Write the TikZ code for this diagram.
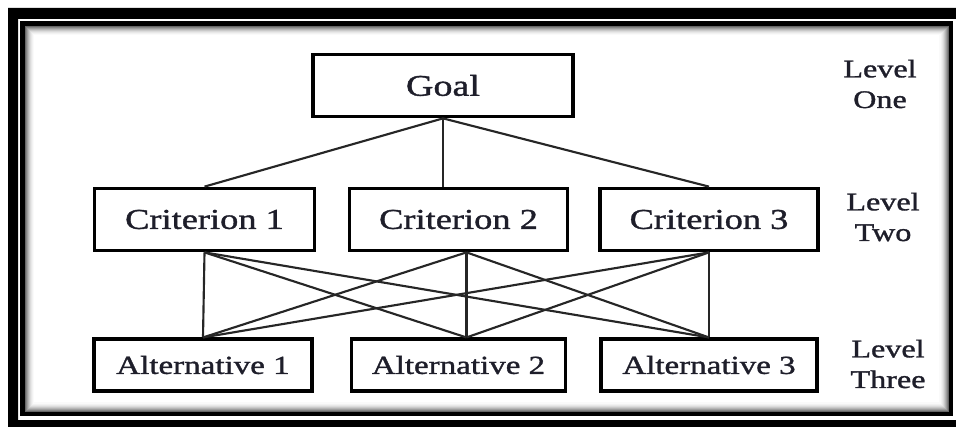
\documentclass[tikz,border=0pt]{standalone}
\usepackage{fontspec}
\setmainfont{Liberation Serif}[FakeStretch=1.27,FakeBold=1.3]
\usepackage{tikz}

\definecolor{inkdark}{HTML}{1E1E2A}
\tikzset{
  levelbox/.style={draw, line width=2.3pt, text=inkdark, inner sep=0pt},
  levellabel/.style={text=inkdark, align=center, font=\fontsize{19}{23}\selectfont},
  link/.style={line width=1.6pt, draw=black!85}
}

\begin{document}
\begin{tikzpicture}[x=0.75pt, y=-0.75pt]
  \useasboundingbox (0,0) rectangle (956,427);
  % Double frame round the picture, inner one with a soft shadow
  \fill[black, even odd rule] (8,8) rectangle (975,445) (18,19) rectangle (956,420);
  \foreach \d/\c in {3/60, 4/48, 5/38, 6/29, 7/21, 8/14, 9/9, 10/5, 11/2}
    \draw[black!\c, line width=1.1pt] (22.5+\d,23.5+\d) rectangle (951-\d,414-\d);
  \draw[line width=3.2pt] (22.5,23.5) rectangle (951,414);
  % Level one
  \node[levelbox, minimum width=195pt, minimum height=47pt,
        font=\fontsize{22.5}{26}\selectfont] (goal) at (443,85.5) {Goal};
  % Level two
  \node[levelbox, minimum width=165.5pt, minimum height=47pt,
        font=\fontsize{21.5}{26}\selectfont] (crit1) at (204.5,219.5) {Criterion 1};
  \node[levelbox, minimum width=164pt, minimum height=47pt,
        font=\fontsize{21.5}{26}\selectfont] (crit2) at (458.5,219.5) {Criterion 2};
  \node[levelbox, minimum width=163.5pt, minimum height=47pt,
        font=\fontsize{21.5}{26}\selectfont] (crit3) at (709,219.5) {Criterion 3};
  % Level three
  \node[levelbox, minimum width=163.5pt, minimum height=39pt,
        font=\fontsize{19.5}{24}\selectfont] (alt1) at (203,365) {Alternative 1};
  \node[levelbox, minimum width=160pt, minimum height=39pt,
        font=\fontsize{19.5}{24}\selectfont] (alt2) at (458.5,365) {Alternative 2};
  \node[levelbox, minimum width=162pt, minimum height=39pt,
        font=\fontsize{19.5}{24}\selectfont] (alt3) at (709,365) {Alternative 3};
  % Labels on the right
  \node[levellabel] (lvl1) at (880,84) {Level\\One};
  \node[levellabel] (lvl2) at (883,217) {Level\\Two};
  \node[levellabel] (lvl3) at (888,364) {Level\\Three};
  % Goal to criteria
  \draw[link] (goal.south) -- (crit1.north);
  \draw[link] (goal.south) -- (goal.south |- crit2.north);
  \draw[link] (goal.south) -- (crit3.north);
  % Criteria to alternatives
  \coordinate (c2foot) at ([xshift=6pt]crit2.south);
  \coordinate (a2head) at ([xshift=6pt]alt2.north);
  \draw[link] (crit1.south) -- (alt1.north);
  \draw[link] (crit1.south) -- (a2head);
  \draw[link] (crit1.south) -- (alt3.north);
  \draw[link] (c2foot) -- (alt1.north);
  \draw[link] (c2foot) -- (a2head);
  \draw[link] (c2foot) -- (alt3.north);
  \draw[link] (crit3.south) -- (alt1.north);
  \draw[link] (crit3.south) -- (a2head);
  \draw[link] (crit3.south) -- (alt3.north);
\end{tikzpicture}
\end{document}
